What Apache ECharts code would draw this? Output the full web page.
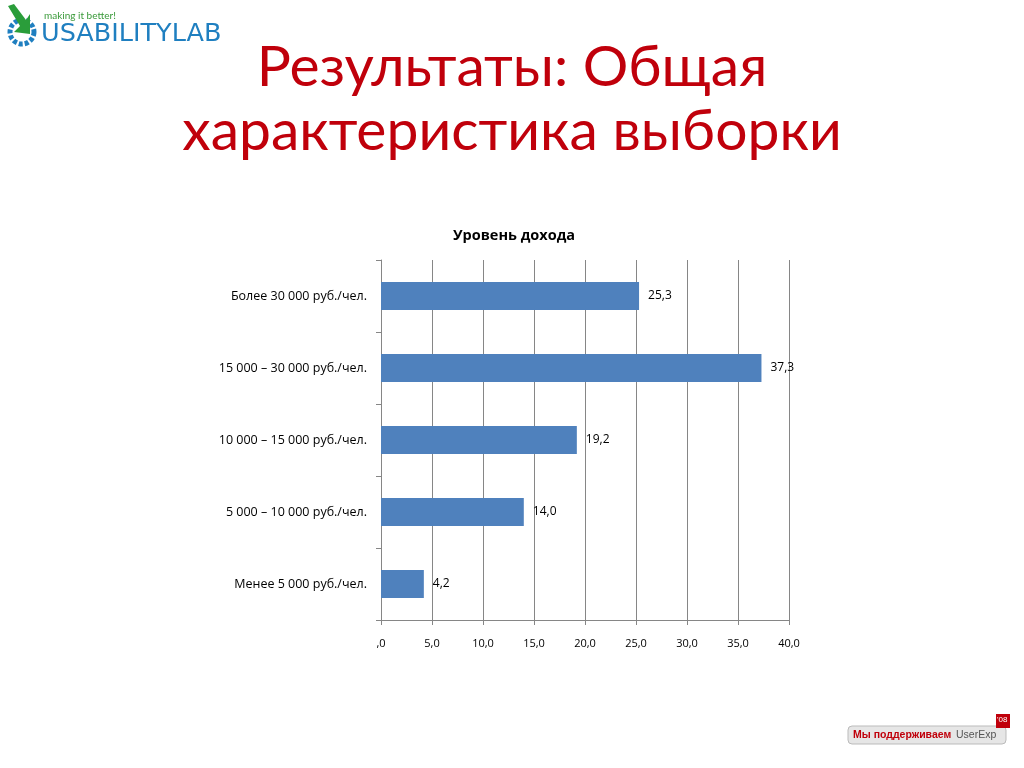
<!DOCTYPE html>
<html><head><meta charset="utf-8">
<script src="https://cdn.jsdelivr.net/npm/echarts@6/dist/echarts.min.js"></script>
<style>html,body{margin:0;padding:0;background:#fff}#c{width:1024px;height:768px}</style>
</head><body><div id="c"></div>
<script>
const categories = ['Менее 5 000 руб./чел.', '5 000 – 10 000 руб./чел.', '10 000 – 15 000 руб./чел.', '15 000 – 30 000 руб./чел.', 'Более 30 000 руб./чел.'];
const values = [4.2, 14.0, 19.2, 37.3, 25.3];
const chartTitle = 'Уровень дохода';
const slideTitle = ['Результаты: Общая', 'характеристика выборки'];

const fmt = v => (v === 0 ? ',0' : v.toFixed(1).replace('.', ','));
const font = '"Open Sans", Lato, sans-serif';
const titleFont = 'Lato, "Open Sans", sans-serif';

const chart = echarts.init(document.getElementById('c'));
chart.setOption({
  animation: false,
  backgroundColor: '#fff',
  title: {
    text: chartTitle, left: 509, top: 223, textAlign: 'center',
    textStyle: { fontFamily: font, fontSize: 14.5, fontWeight: 'bold', color: '#000' }
  },
  graphic: [
    { type: 'text', left: 'center', top: 39, style: { text: slideTitle[0], fontFamily: titleFont, fontSize: 57, fill: '#c0000b' } },
    { type: 'text', left: 'center', top: 103, style: { text: slideTitle[1], fontFamily: titleFont, fontSize: 57, fill: '#c0000b' } },
    { type: 'text', left: 44, top: 11, style: { text: 'making it better!', fontFamily: titleFont, fontSize: 10, fill: '#3a9a3a' } },
    { type: 'text', left: 41, top: 21, style: { text: 'USABILITYLAB', fontFamily: '"DejaVu Sans", sans-serif', fontSize: 25.5, fill: '#1f7fc0' } },
    { type: 'circle', shape: { cx: 22, cy: 32, r: 12 }, style: { fill: 'none', stroke: '#1f7fc0', lineWidth: 5, lineDash: [4, 2] } },
    { type: 'polygon', shape: { points: [[8, 6], [14, 4], [26, 20], [30, 14], [30, 34], [14, 32], [20, 26]] }, style: { fill: '#2a9d3a' } },
    { type: 'rect', shape: { x: 848, y: 726, width: 158, height: 18, r: 4 }, style: { fill: '#e6e6e6', stroke: '#bbb' } },
    { type: 'text', left: 853, top: 730, style: { text: 'Мы поддерживаем', fontFamily: '"Liberation Sans", sans-serif', fontSize: 10.5, fontWeight: 'bold', fill: '#c0000b' } },
    { type: 'text', left: 956, top: 730, style: { text: 'UserExp', fontFamily: '"Liberation Sans", sans-serif', fontSize: 10.5, fill: '#555' } },
    { type: 'rect', shape: { x: 996, y: 714, width: 14, height: 14 }, style: { fill: '#c0000b' } },
    { type: 'text', left: 997, top: 716, style: { text: "'08", fontFamily: '"Liberation Sans", sans-serif', fontSize: 8, fill: '#fff' } }
  ],
  grid: { left: 381, right: 235, top: 260, bottom: 148, containLabel: false },
  xAxis: {
    type: 'value', min: 0, max: 40, interval: 5,
    axisLine: { show: true, lineStyle: { color: '#868686' } },
    axisTick: { show: true, length: 5, lineStyle: { color: '#868686' } },
    splitLine: { show: true, lineStyle: { color: '#868686' } },
    axisLabel: { formatter: fmt, fontFamily: font, fontSize: 11, color: '#000', margin: 18 }
  },
  yAxis: {
    type: 'category', data: categories,
    axisLine: { show: true, lineStyle: { color: '#868686' } },
    axisTick: { show: true, length: 5, lineStyle: { color: '#868686' } },
    axisLabel: { fontFamily: font, fontSize: 12.5, color: '#000', margin: 14 },
    splitLine: { show: false }
  },
  series: [{
    type: 'bar', data: values, barWidth: 28,
    itemStyle: { color: '#4f81bd' },
    label: { show: true, position: 'right', distance: 9, formatter: p => fmt(p.value), fontFamily: font, fontSize: 12, color: '#000' }
  }]
});
</script></body></html>
